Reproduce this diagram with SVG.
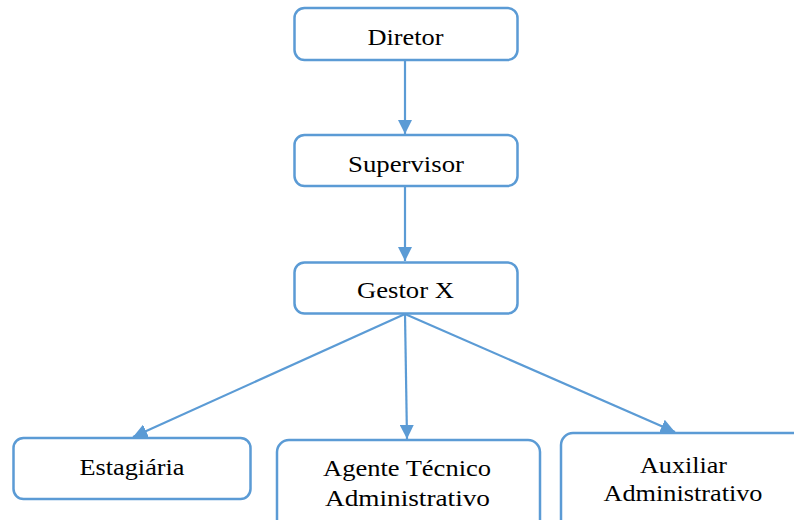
<svg xmlns="http://www.w3.org/2000/svg" width="794" height="520" viewBox="0 0 794 520">
<style>
.box{fill:#fff;stroke:#5B9BD5;stroke-width:2.5}
.lbl{font-family:'Times New Roman','Liberation Serif',Tinos,'Nimbus Roman',serif;font-size:24px;fill:#000;text-anchor:middle}
.conn{stroke:#5B9BD5;stroke-width:2.2;fill:none;marker-end:url(#ah)}
</style>
<defs>
<marker id="ah" viewBox="0 0 10 10" refX="10" refY="5" markerWidth="6.5" markerHeight="6.5" markerUnits="strokeWidth" orient="auto">
<path d="M0,0 L10,5 L0,10 z" fill="#5B9BD5"/>
</marker>
</defs>
<rect width="794" height="520" fill="#fff"/>
<g id="connectors">
<line class="conn" x1="405" y1="61" x2="405" y2="134"/>
<line class="conn" x1="405" y1="187" x2="405" y2="261"/>
<line class="conn" x1="405" y1="314" x2="133" y2="437"/>
<line class="conn" x1="405" y1="314" x2="407" y2="439"/>
<line class="conn" x1="405" y1="314" x2="675" y2="432"/>
</g>
<g id="diretor">
<rect class="box" x="294.5" y="8" width="223" height="52" rx="10"/>
<text class="lbl" x="405.5" y="45" textLength="76" lengthAdjust="spacingAndGlyphs">Diretor</text>
</g>
<g id="supervisor">
<rect class="box" x="294.5" y="135" width="223" height="51" rx="10"/>
<text class="lbl" x="406" y="172" textLength="116" lengthAdjust="spacingAndGlyphs">Supervisor</text>
</g>
<g id="gestor">
<rect class="box" x="294.5" y="262.5" width="223" height="51" rx="10"/>
<text class="lbl" x="405.5" y="298" textLength="97" lengthAdjust="spacingAndGlyphs">Gestor X</text>
</g>
<g id="estagiaria">
<rect class="box" x="13.5" y="438" width="237" height="61" rx="10"/>
<text class="lbl" x="132" y="475" textLength="105" lengthAdjust="spacingAndGlyphs">Estagiária</text>
</g>
<g id="agente">
<rect class="box" x="277" y="440" width="263" height="100" rx="12"/>
<text class="lbl" x="407" y="476" textLength="168" lengthAdjust="spacingAndGlyphs">Agente Técnico</text>
<text class="lbl" x="407.5" y="506" textLength="165" lengthAdjust="spacingAndGlyphs">Administrativo</text>
</g>
<g id="auxiliar">
<rect class="box" x="561" y="433" width="263" height="100" rx="12"/>
<text class="lbl" x="683.5" y="473" textLength="87" lengthAdjust="spacingAndGlyphs">Auxiliar</text>
<text class="lbl" x="683" y="501" textLength="159" lengthAdjust="spacingAndGlyphs">Administrativo</text>
</g>
</svg>
